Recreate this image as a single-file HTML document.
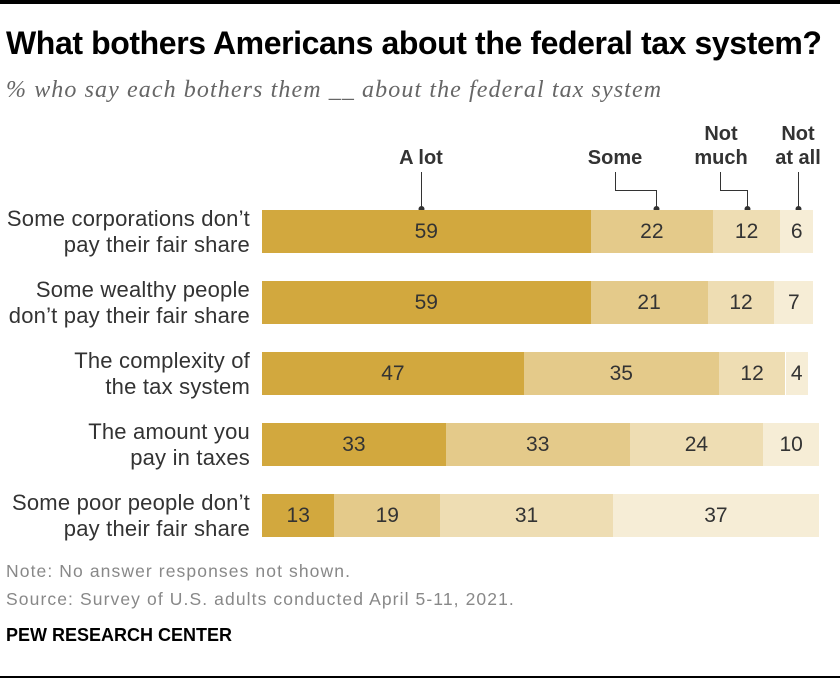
<!DOCTYPE html>
<html><head><meta charset="utf-8"><style>
body{margin:0;background:#fff;width:840px;height:684px;position:relative;overflow:hidden;font-family:"Liberation Sans",Arial,sans-serif}
.a{position:absolute;white-space:nowrap}
.lab{position:absolute;right:590px;text-align:right;font-size:22px;line-height:26px;color:#333;white-space:nowrap;letter-spacing:0.2px}
.bar{position:absolute;height:43px;font-size:21px;color:#333;display:flex;align-items:center;justify-content:center}
.leg{position:absolute;font-weight:bold;font-size:20px;color:#333;text-align:center;line-height:24px;transform:translateX(-50%);white-space:nowrap}
</style></head><body>
<div class="a" style="left:0;top:0;width:840px;height:4px;background:#000"></div>
<div class="a" style="left:6px;top:25px;font-size:32px;font-weight:bold;color:#000;letter-spacing:-0.4px">What bothers Americans about the federal tax system?</div>
<div class="a" style="left:6px;top:77px;font-size:24px;font-style:italic;color:#666;font-family:'Liberation Serif',serif;letter-spacing:1.1px">% who say each bothers them __ about the federal tax system</div>

<div class="leg" style="left:421px;top:146px">A lot</div>
<div class="leg" style="left:615px;top:146px">Some</div>
<div class="leg" style="left:721px;top:122px">Not<br>much</div>
<div class="leg" style="left:798px;top:122px">Not<br>at all</div>
<svg class="a" style="left:0;top:0" width="840" height="260">
<g stroke="#333" stroke-width="1" fill="none">
<path d="M421.5 172V209"/><path d="M615.5 172V190.5H656.5V209"/><path d="M720.5 172V190.5H747.5V209"/><path d="M798.5 172V209"/>
</g>
<g fill="#333"><circle cx="421.5" cy="209" r="3"/><circle cx="656.5" cy="209" r="3"/><circle cx="747.5" cy="209" r="3"/><circle cx="798.5" cy="209" r="3"/></g>
</svg>

<div class="lab" style="top:206px">Some corporations don’t<br>pay their fair share</div>
<div class="lab" style="top:277px">Some wealthy people<br>don’t pay their fair share</div>
<div class="lab" style="top:348px">The complexity of<br>the tax system</div>
<div class="lab" style="top:419px">The amount you<br>pay in taxes</div>
<div class="lab" style="top:490px">Some poor people don’t<br>pay their fair share</div>

<div id="bars"></div>
<script>
var d=[[59,22,12,6],[59,21,12,7],[47,35,12,4],[33,33,24,10],[13,19,31,37]];
var c=["#D2A83E","#E4CA8A","#EEDDB3","#F6EDD6"];
var tops=[210,281,352,423,494],s=5.57,h="";
d.forEach(function(r,i){var x=262;r.forEach(function(v,j){var w=v*s;h+='<div class="bar" style="left:'+x.toFixed(1)+'px;top:'+tops[i]+'px;width:'+w.toFixed(1)+'px;background:'+c[j]+'">'+v+'</div>';x+=w;});});
document.getElementById("bars").innerHTML=h;
</script>

<div class="a" style="left:6px;top:561px;font-size:17.5px;color:#888;letter-spacing:1.1px">Note: No answer responses not shown.</div>
<div class="a" style="left:6px;top:589px;font-size:17.5px;color:#888;letter-spacing:1.1px">Source: Survey of U.S. adults conducted April 5-11, 2021.</div>
<div class="a" style="left:6px;top:625px;font-size:18px;font-weight:bold;color:#000">PEW RESEARCH CENTER</div>
<div class="a" style="left:0;top:676px;width:840px;height:2px;background:#000"></div>
</body></html>
